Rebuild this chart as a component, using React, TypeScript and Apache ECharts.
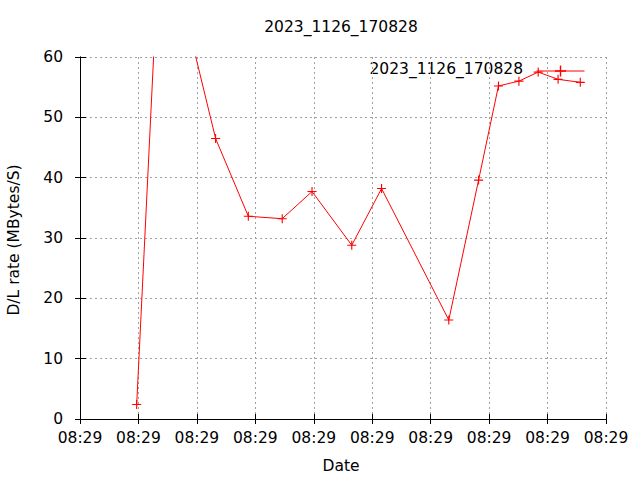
import React, { useEffect, useRef } from "react";
import * as echarts from "echarts";

const titleText = "2023_1126_170828";
const seriesName = "2023_1126_170828";
const xTickLabel = "08:29";
const xValues = [0.97, 1.38, 2.32, 2.88, 3.46, 3.97, 4.65, 5.16, 6.31, 6.82, 7.16, 7.51, 7.84, 8.18, 8.56];
const yValues = [2.4, 84, 46.5, 33.6, 33.2, 37.7, 28.8, 38.2, 16.4, 39.6, 55.2, 56.0, 57.5, 56.3, 55.8];

const FONT = "DejaVu Sans";
const FS = 15.5;
const PLUS = "path://M0,3.5H3.5V0H4.5V3.5H8V4.5H4.5V8H3.5V4.5H0Z";

export default function App() {
  const ref = useRef<HTMLDivElement>(null);
  useEffect(() => {
    if (!ref.current) return;
    const chart = echarts.init(ref.current, null, { renderer: "svg" });
    const data = xValues.map((x, i) => [x, yValues[i]]);
    const gridLine = { show: true, lineStyle: { color: "#a0a0a0", type: [2, 3] as any, width: 1 } };
    const axisLineStyle = { show: true, lineStyle: { color: "#000", width: 1 } };
    chart.setOption({
      animation: false,
      textStyle: { fontFamily: FONT },
      grid: { left: 80, right: 34, top: 57, bottom: 61 },
      legend: {
        show: true,
        left: 531,
        top: 59,
        align: "left",
        itemWidth: 48,
        itemHeight: 14,
        formatter: () => "",
        lineStyle: { width: 1 },
        textStyle: { fontFamily: FONT, fontSize: FS, color: "#000" },
        data: [{ name: seriesName }],
      },
      xAxis: [
        {
          type: "value",
          min: 0,
          max: 9,
          interval: 1,
          axisLine: axisLineStyle,
          axisTick: { show: true, inside: true, length: 5, lineStyle: { color: "#000" } },
          axisLabel: { formatter: () => xTickLabel, color: "#000", fontSize: FS, fontFamily: FONT, margin: 11 },
          splitLine: gridLine,
        },
        {
          type: "value",
          position: "top",
          min: 0,
          max: 9,
          interval: 1,
          axisLine: axisLineStyle,
          axisTick: { show: true, inside: true, length: 5, lineStyle: { color: "#000" } },
          axisLabel: { show: false },
          splitLine: { show: false },
        },
      ],
      yAxis: [
        {
          type: "value",
          min: 0,
          max: 60,
          interval: 10,
          axisLine: axisLineStyle,
          axisTick: { show: true, inside: true, length: 6, lineStyle: { color: "#000" } },
          axisLabel: { color: "#000", fontSize: FS, fontFamily: FONT, margin: 17 },
          splitLine: gridLine,
        },
        {
          type: "value",
          position: "right",
          min: 0,
          max: 60,
          interval: 10,
          axisLine: axisLineStyle,
          axisTick: { show: true, inside: true, length: 5, lineStyle: { color: "#000" } },
          axisLabel: { show: false },
          splitLine: { show: false },
        },
      ],
      series: [
        {
          name: seriesName,
          type: "line",
          data,
          clip: true,
          symbol: PLUS,
          symbolSize: 9,
          lineStyle: { color: "#ff0000", width: 1 },
          itemStyle: { color: "#ff0000" },
        },
      ],
      graphic: [
        {
          type: "text",
          x: 341,
          y: 27,
          style: { text: titleText, fontFamily: FONT, fontSize: FS, fill: "#000", textAlign: "center", textVerticalAlign: "middle" },
        },
        {
          type: "text",
          x: 523,
          y: 69,
          style: { text: seriesName, fontFamily: FONT, fontSize: FS, fill: "#000", textAlign: "right", textVerticalAlign: "middle" },
        },
        {
          type: "text",
          x: 341,
          y: 466,
          style: { text: "Date", fontFamily: FONT, fontSize: FS, fill: "#000", textAlign: "center", textVerticalAlign: "middle" },
        },
        {
          type: "text",
          x: 14,
          y: 240,
          rotation: Math.PI / 2,
          style: { text: "D/L rate (MBytes/S)", fontFamily: FONT, fontSize: FS, fill: "#000", textAlign: "center", textVerticalAlign: "middle" },
        },
      ],
    });
    return () => chart.dispose();
  }, []);
  return <div ref={ref} style={{ width: 640, height: 480, position: "absolute", left: 0, top: 0 }} />;
}
